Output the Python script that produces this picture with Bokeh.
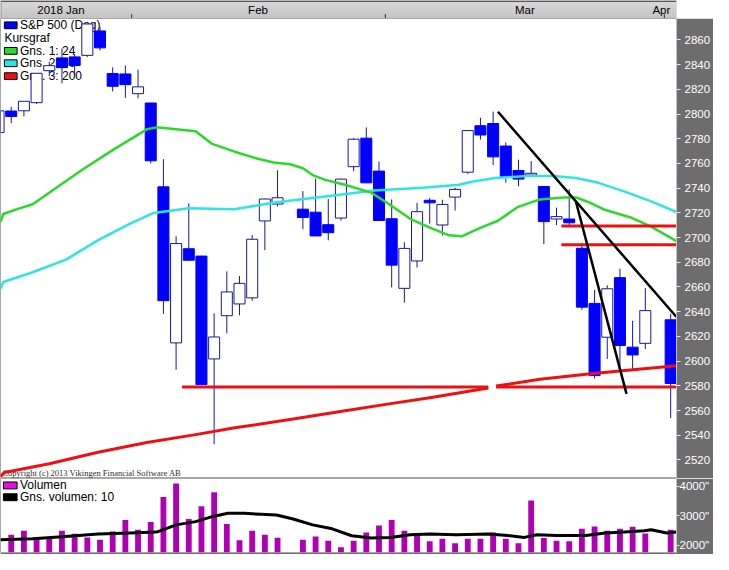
import numpy as np
from bokeh.plotting import figure
from bokeh.layouts import column
from bokeh.models import Range1d, FixedTicker
from bokeh.core.properties import value
from bokeh.embed import file_html
from bokeh.resources import INLINE

# ---------------- data ----------------
dates = ['2018-01-17', '2018-01-18', '2018-01-19', '2018-01-22', '2018-01-23', '2018-01-24',
         '2018-01-25', '2018-01-26', '2018-01-29', '2018-01-30', '2018-01-31', '2018-02-01',
         '2018-02-02', '2018-02-05', '2018-02-06', '2018-02-07', '2018-02-08', '2018-02-09',
         '2018-02-12', '2018-02-13', '2018-02-14', '2018-02-15', '2018-02-16', '2018-02-20',
         '2018-02-21', '2018-02-22', '2018-02-23', '2018-02-26', '2018-02-27', '2018-02-28',
         '2018-03-01', '2018-03-02', '2018-03-05', '2018-03-06', '2018-03-07', '2018-03-08',
         '2018-03-09', '2018-03-12', '2018-03-13', '2018-03-14', '2018-03-15', '2018-03-16',
         '2018-03-19', '2018-03-20', '2018-03-21', '2018-03-22', '2018-03-23', '2018-03-26',
         '2018-03-27', '2018-03-28', '2018-03-29', '2018-04-02']

opens = [2784.99, 2802.40, 2802.60, 2809.16, 2835.05, 2845.42, 2846.24, 2847.48, 2867.23, 2832.74,
         2832.41, 2816.45, 2808.92, 2741.06, 2614.78, 2690.95, 2685.01, 2601.78, 2636.75, 2646.27,
         2651.21, 2713.46, 2727.14, 2722.99, 2720.53, 2710.42, 2715.80, 2757.37, 2780.45, 2753.78,
         2715.22, 2658.89, 2681.06, 2730.18, 2710.18, 2732.75, 2752.91, 2790.54, 2792.31, 2774.06,
         2754.27, 2750.57, 2741.38, 2715.05, 2714.99, 2691.36, 2646.71, 2619.35, 2667.57, 2611.30,
         2614.41, 2633.45]
highs = [2807.04, 2805.83, 2810.33, 2833.03, 2842.24, 2852.97, 2848.56, 2872.87, 2870.62, 2837.75,
         2839.26, 2835.96, 2808.92, 2763.39, 2701.04, 2727.67, 2685.27, 2638.67, 2672.61, 2668.84,
         2702.10, 2731.51, 2754.42, 2737.60, 2747.75, 2731.26, 2747.76, 2780.64, 2789.15, 2761.52,
         2730.89, 2696.25, 2728.09, 2732.08, 2730.60, 2740.45, 2786.57, 2796.98, 2801.90, 2777.11,
         2763.03, 2761.85, 2741.38, 2724.22, 2739.14, 2695.68, 2657.67, 2661.36, 2674.78, 2632.65,
         2659.07, 2638.30]
lows = [2778.38, 2792.56, 2798.08, 2808.12, 2830.59, 2824.81, 2830.94, 2846.18, 2851.48, 2818.27,
        2813.04, 2812.70, 2759.97, 2638.17, 2593.07, 2681.33, 2580.56, 2532.69, 2622.45, 2637.08,
        2648.87, 2689.82, 2725.11, 2706.76, 2701.29, 2697.77, 2713.74, 2753.78, 2744.22, 2713.54,
        2659.65, 2647.32, 2675.75, 2711.26, 2701.74, 2721.89, 2751.54, 2779.26, 2758.68, 2744.38,
        2741.47, 2749.97, 2694.59, 2710.05, 2709.79, 2641.59, 2585.89, 2601.81, 2596.12, 2593.06,
        2609.72, 2553.80]
closes = [2802.56, 2798.03, 2810.30, 2832.97, 2839.13, 2837.54, 2839.25, 2872.87, 2853.53, 2822.43,
          2823.81, 2821.98, 2762.13, 2648.94, 2695.14, 2681.66, 2581.00, 2619.55, 2656.00, 2662.94,
          2698.63, 2731.20, 2732.22, 2716.26, 2701.33, 2703.96, 2747.30, 2779.60, 2744.28, 2713.83,
          2677.67, 2691.25, 2720.94, 2728.12, 2726.80, 2738.97, 2786.57, 2783.02, 2765.31, 2749.48,
          2747.33, 2752.01, 2712.92, 2716.94, 2711.93, 2643.69, 2588.26, 2658.55, 2612.62, 2605.00,
          2640.87, 2581.88]
volumes = [float('nan'), 2357, 2490, 2247, 2247, 2490, 2390, 2267, 2190, 2467, 2857, 2523, 2790,
           3633, 4090, 2890, 3323, 3790, 2723, 2167, 2490, 2357, 2257, 2190, 2300, 2157, 1933,
           2157, 2433, 2667, 2857, 2490, 2400, 2133, 2223, 2067, 2223, 2223, 2433, 2223, 2067,
           3513, 2247, 2157, 2133, 2557, 2633, 2490, 2557, 2623, 2400, 2523]

# moving averages (x in trading-slot units)
ma24_x = [-0.85, -0.62, 0.46, 1.69, 5.54, 8.15, 10.69, 11.46, 14.54, 15.85, 17.62, 19.38, 20.69,
          22.0, 23.0, 23.77, 24.77, 26.31, 28.38, 29.92, 31.46, 33.0, 34.54, 35.54, 36.85, 38.38,
          39.92, 41.69, 43.54, 44.54, 45.54, 46.85, 48.92, 50.46, 52.46]
ma24_y = [2712.8, 2719.1, 2723.0, 2727.0, 2754.5, 2771.8, 2787.6, 2789.2, 2786.0, 2775.8, 2769.5,
          2764.0, 2760.8, 2759.3, 2756.1, 2750.6, 2746.7, 2742.7, 2736.4, 2726.2, 2715.2, 2708.1,
          2701.8, 2701.0, 2707.3, 2713.6, 2724.6, 2730.9, 2732.5, 2732.5, 2728.6, 2722.3, 2716.0,
          2708.9, 2697.1]
ma50_x = [-0.85, -0.62, 1.69, 4.31, 6.85, 9.38, 11.23, 14.0, 17.62, 20.92, 24.77, 28.62, 32.46,
          35.31, 36.31, 38.15, 40.69, 42.77, 44.54, 46.31, 48.38, 50.46, 52.46]
ma50_y = [2658.5, 2664.0, 2671.9, 2682.1, 2697.9, 2711.3, 2719.9, 2723.8, 2723.0, 2728.6, 2733.3,
          2738.0, 2740.4, 2742.7, 2745.1, 2748.2, 2749.8, 2749.8, 2748.2, 2744.3, 2737.2, 2729.3,
          2720.7]
ma200_x = [-0.85, -0.54, 3.0, 6.85, 10.69, 14.54, 17.62, 22.23, 26.08, 29.92, 33.0, 37.62,
           float('nan'), 38.23, 41.69, 45.31, 48.38, 52.46]
ma200_y = [2506.6, 2509.8, 2516.9, 2526.3, 2534.2, 2540.5, 2546.0, 2553.1, 2559.4, 2565.6, 2570.4,
           2578.2, float('nan'), 2579.8, 2585.3, 2589.3, 2592.4, 2596.3]
vma_x = [-0.85, 1.69, 4.31, 6.85, 9.38, 11.46, 13.0, 14.54, 15.85, 17.08, 18.38, 19.69, 20.92,
         22.23, 23.77, 25.31, 26.85, 28.38, 29.92, 31.46, 33.0, 35.08, 37.62, 39.15, 40.46, 41.46,
         43.0, 45.31, 46.85, 48.38, 49.92, 50.46, 51.69, 52.46]
vma_y = [2190, 2223, 2300, 2380, 2413, 2447, 2690, 2800, 2967, 3080, 3080, 3047, 3023, 2890, 2690,
         2557, 2323, 2247, 2267, 2357, 2380, 2357, 2380, 2333, 2267, 2357, 2333, 2333, 2413, 2447,
         2490, 2523, 2413, 2447]

# drawn support / resistance and trend lines
hl_level = [2579.0, 2579.0, 2694.2, 2709.4]
hl_start = [13.46, 38.23, 43.38, 43.38]
hl_end = [37.62, 52.46, 52.46, 52.46]
tl_x0 = [38.38, 44.54]
tl_y0 = [2801.8, 2728.6]
tl_x1 = [52.46, 48.52]
tl_y1 = [2635.7, 2573.5]

price_ticks = [2520, 2540, 2560, 2580, 2600, 2620, 2640, 2660, 2680, 2700, 2720, 2740, 2760,
               2780, 2800, 2820, 2840, 2860]
vol_ticks = [2000, 3000, 4000]
vol_tick_labels = ['2000"', '3000"', '4000"']
month_labels = ['2018 Jan', 'Feb', 'Mar', 'Apr']
month_bounds = [9.5, 29.5, 51.5]

legend_labels = ['S&P 500 (Dag)', 'Gns. 1: 24', 'Gns. 2: 50', 'Gns. 3: 200']
vol_legend_labels = ['Volumen', 'Gns. volumen: 10']
copyright_text = 'Copyright (c) 2013 Vikingen Financial Software AB'

# ---------------- layout ----------------
FONT = "Liberation Sans"
W_FRAME, AX_W = 678, 35
TOTAL_W = W_FRAME + AX_W
H_TOP, H_MAIN, H_VOL, B_VOL = 18, 460, 74, 2

X0, X1 = -0.846, 52.46
Y0, Y1 = 2505.0, 2877.3
V0, V1 = 1757.0, 4257.0
xr = Range1d(X0, X1)


def sx(px):   # reference pixel column -> slot coordinate
    return X0 + px * (X1 - X0) / 693.0


def sy(py):   # reference pixel row (main pane) -> price
    return Y1 - (py - 19) * (Y1 - Y0) / 473.0


def sv(py):   # reference pixel row (volume pane) -> volume
    return V1 - (py - 493) * (V1 - V0) / 75.0


x = np.busday_count('2018-01-18', dates).astype(float)
o = np.array(opens); c = np.array(closes)
up = c >= o

DARK_BLUE = "#18189c"
BLUE = "#0000ff"
GREEN = "#2cd82c"
CYAN = "#30e4e4"
RED = "#ee1010"
AX_BG = "#6d6d6d"

# ---- month strip ----
top = figure(width=TOTAL_W, height=H_TOP, x_range=xr, y_range=Range1d(0, 1),
             x_axis_type=None, y_axis_type=None, toolbar_location=None,
             output_backend="svg", min_border_left=0, min_border_right=AX_W,
             min_border_top=0, min_border_bottom=0, outline_line_color=None,
             border_fill_color="white", background_fill_color="#cccccc")
top.grid.visible = False
n = 18
shades = []
for i in range(n):
    g = int(0xc0 + (0xde - 0xc0) * i / (n - 1))
    shades.append("#%02x%02x%02x" % (g, g, g))
top.quad(left=[X0] * n, right=[X1] * n, bottom=[i / n for i in range(n)],
         top=[(i + 1) / n for i in range(n)], fill_color=shades, line_color=None)
top.quad(left=[X0], right=[X1], bottom=[1 - 1.6 / H_TOP], top=[1.0],
         fill_color="#555555", line_color=None)
top.quad(left=[X0], right=[X0 + 0.08], bottom=[0], top=[1], fill_color="#8a8a8a", line_color=None)
top.segment(x0=month_bounds, y0=[0] * 3, x1=month_bounds, y1=[0.24] * 3,
            line_color="#303030", line_width=1)
top.text(x=[sx(62), sx(264), sx(537.5), sx(677.5)], y=[0.5] * 4, text=month_labels,
         text_align="center", text_baseline="middle", text_font=value(FONT),
         text_font_size="11.5px", text_color="black")

# ---- main price pane ----
p = figure(width=TOTAL_W, height=H_MAIN, x_range=xr, y_range=Range1d(Y0, Y1),
           x_axis_type=None, y_axis_location="right", toolbar_location=None,
           output_backend="svg", min_border_left=0, min_border_right=AX_W,
           min_border_top=0, min_border_bottom=0, background_fill_color="white",
           border_fill_color=AX_BG, outline_line_color="#a8a8a8")
p.grid.visible = False
ax = p.yaxis[0]
ax.ticker = FixedTicker(ticks=price_ticks)
ax.major_label_text_color = "white"
ax.major_label_text_font = FONT
ax.major_label_text_font_size = "11.5px"
ax.major_tick_out = 4
ax.major_tick_in = 0
ax.major_tick_line_color = "#e6e6e6"
ax.minor_tick_line_color = None
ax.axis_line_color = "#c4c4c4"
ax.major_label_standoff = 4

# legend (drawn under the candles, as in the original)
lg_rows = [26, 52.3, 65, 78.3]
lg_cols = [BLUE, GREEN, CYAN, RED]
p.quad(left=[sx(4)] * 4, right=[sx(17)] * 4, top=[sy(r - 3.5) for r in lg_rows],
       bottom=[sy(r + 3.5) for r in lg_rows], fill_color=lg_cols, line_color="black",
       line_width=1)
p.text(x=[sx(20)] * 4, y=[sy(r) for r in lg_rows], text=legend_labels,
       text_align="left", text_baseline="middle", text_font=value(FONT),
       text_font_size="12px", text_color="black")
p.text(x=[sx(4)], y=[sy(39)], text=["Kursgraf"], text_align="left", text_baseline="middle",
       text_font=value(FONT), text_font_size="12px", text_color="black")
p.text(x=[sx(2)], y=[sy(486)], text=[copyright_text], text_align="left",
       text_baseline="middle", text_font=value("Liberation Serif"), text_font_size="8.5px",
       text_color="#303030")

# candles
p.segment(x0=x, y0=lows, x1=x, y1=highs, line_color=DARK_BLUE, line_width=1)
p.vbar(x=x, width=0.87, top=np.maximum(o, c), bottom=np.minimum(o, c),
       fill_color=["white" if u else BLUE for u in up],
       line_color=[DARK_BLUE if u else BLUE for u in up], line_width=1)

# moving averages
p.line(ma50_x, ma50_y, line_color=CYAN, line_width=2.5, line_join="round")
p.line(ma24_x, ma24_y, line_color=GREEN, line_width=2.5, line_join="round")
p.line(ma200_x, ma200_y, line_color=RED, line_width=3, line_join="round")

# drawn lines
p.segment(x0=hl_start, y0=hl_level, x1=hl_end, y1=hl_level, line_color=RED, line_width=3)
p.segment(x0=tl_x0, y0=tl_y0, x1=tl_x1, y1=tl_y1, line_color="black", line_width=2.5)

# ---- volume pane ----
v = figure(width=TOTAL_W, height=H_VOL + B_VOL, x_range=xr, y_range=Range1d(V0, V1),
           x_axis_type=None, y_axis_location="right", toolbar_location=None,
           output_backend="svg", min_border_left=0, min_border_right=AX_W,
           min_border_top=0, min_border_bottom=B_VOL, background_fill_color="white",
           border_fill_color=AX_BG, outline_line_color="#a8a8a8")
v.grid.visible = False
vax = v.yaxis[0]
vax.ticker = FixedTicker(ticks=vol_ticks)
vax.major_label_overrides = {t: lab for t, lab in zip(vol_ticks, vol_tick_labels)}
vax.major_label_text_color = "white"
vax.major_label_text_font = FONT
vax.major_label_text_font_size = "11.5px"
vax.major_tick_out = 3
vax.major_tick_in = 0
vax.major_tick_line_color = "#e6e6e6"
vax.minor_tick_line_color = None
vax.axis_line_color = "#c4c4c4"
vax.major_label_standoff = 0

v.vbar(x=x, width=0.46, top=volumes, bottom=V0, fill_color="#b000b4", line_color=None)
v.line(vma_x, vma_y, line_color="black", line_width=3, line_join="round")

vl_rows = [500, 512]
v.quad(left=[sx(3)] * 2, right=[sx(17)] * 2, top=[sv(r - 3.5) for r in vl_rows],
       bottom=[sv(r + 3.5) for r in vl_rows], fill_color=["#e010e0", "black"],
       line_color="black", line_width=1)
v.text(x=[sx(20)] * 2, y=[sv(r) for r in vl_rows], text=vol_legend_labels,
       text_align="left", text_baseline="middle", text_font=value(FONT),
       text_font_size="12px", text_color="black")

layout = column(top, p, v, spacing=0)
open("out.html", "w").write(file_html(layout, INLINE, title="S&P 500"))
